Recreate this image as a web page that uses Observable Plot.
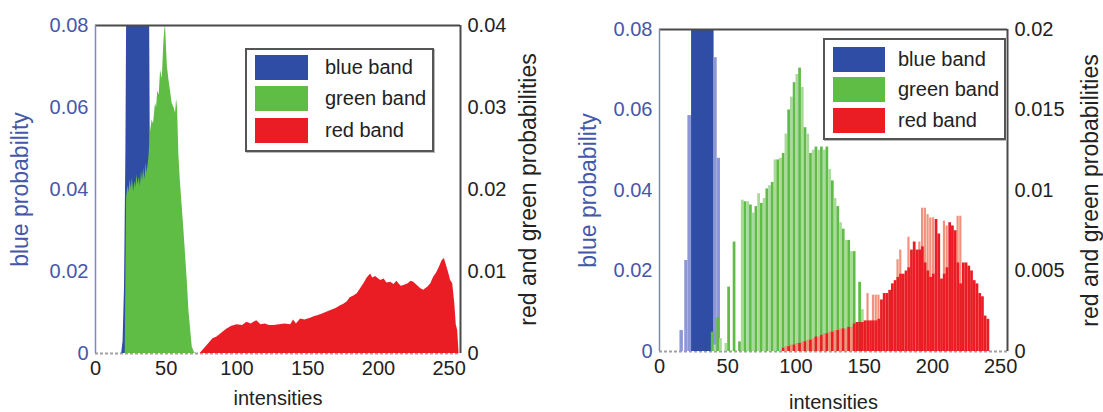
<!DOCTYPE html>
<html><head><meta charset="utf-8">
<script src="https://cdn.jsdelivr.net/npm/d3@7"></script>
<script src="https://cdn.jsdelivr.net/npm/@observablehq/plot@0.6"></script>
<style>
body{margin:0;background:#fff;font-family:"Liberation Sans",Arial,sans-serif}
#wrap{position:relative;width:1103px;height:412px;overflow:hidden}
.panel{position:absolute;top:0}
.lbox{position:absolute;box-sizing:border-box;border:2px solid #555;background:#fff;box-shadow:1px 1px 0 #bbb}
.sw{position:absolute;height:25px}
.lt{position:absolute;height:25px;line-height:25px;font-size:20px;color:#222;white-space:nowrap}
</style></head>
<body><div id="wrap"></div>
<script>
// ---------- data ----------
const xTicks = [0, 50, 100, 150, 200, 250];
const blueTicks = [0, 0.02, 0.04, 0.06, 0.08];
const blueTickLabels = ["0", "0.02", "0.04", "0.06", "0.08"];
const leftRGTicks = [0, 0.01, 0.02, 0.03, 0.04];
const leftRGTickLabels = ["0", "0.01", "0.02", "0.03", "0.04"];
const rightRGTicks = [0, 0.005, 0.01, 0.015, 0.02];
const rightRGTickLabels = ["0", "0.005", "0.01", "0.015", "0.02"];
const bands = ["blue band", "green band", "red band"];

// left panel (blue on left axis, green/red on right axis)
const leftBlueX = [18.5, 19.5, 20.5, 21.5, 22.3, 38, 38.8, 39.5, 40];
const leftBlueV = [0, 0.003, 0.016, 0.05, 0.1, 0.1, 0.045, 0.04, 0];
const leftGreenX = [21, 22, 23, 23.6, 24.5, 25.3, 26, 27, 27.8, 28.5, 29.3, 30, 31, 31.7, 32.5, 33.3, 34, 35, 35.7, 36.5, 37.7, 38.9, 40, 41, 42.4, 43.2, 44, 45, 46, 47.2, 48.3, 49, 49.5, 50, 50.8, 51.8, 53, 54.2, 55.5, 56.6, 57.3, 58, 58.9, 60, 61.3, 62.5, 63.6, 65, 66, 67.2, 68.4, 70, 71];
const leftGreenV = [0, 0.019, 0.0205, 0.0196, 0.0212, 0.0200, 0.0214, 0.0197, 0.0210, 0.0202, 0.0218, 0.0206, 0.0215, 0.0203, 0.0222, 0.0210, 0.0226, 0.0212, 0.0232, 0.0220, 0.0238, 0.027, 0.0285, 0.028, 0.0305, 0.030, 0.032, 0.0315, 0.0345, 0.0335, 0.0378, 0.0395, 0.04, 0.038, 0.035, 0.0335, 0.032, 0.0305, 0.03, 0.0293, 0.031, 0.03, 0.0244, 0.021, 0.0179, 0.015, 0.0122, 0.0085, 0.0053, 0.003, 0.0008, 0.0001, 0];
const leftRedX = [74, 76, 80, 83, 86, 90, 93, 96, 100, 104, 107, 110, 114, 117, 120, 123, 126, 130, 134, 138, 140, 142, 145, 148, 152, 155, 157, 160, 163, 166, 170, 173, 175.5, 178, 180, 182.6, 185, 187, 189.7, 192, 194.5, 196, 198, 201.6, 204, 206, 208.6, 211, 213, 216, 218, 221, 223, 225, 228, 230, 232, 235, 237, 239, 241, 243, 245, 246.6, 248, 250, 251, 252.5, 254, 255, 256, 257];
const leftRedV = [0, 0.0004, 0.0012, 0.0018, 0.002, 0.0026, 0.003, 0.0033, 0.0035, 0.0034, 0.0038, 0.0036, 0.004, 0.0035, 0.0036, 0.0034, 0.0034, 0.0035, 0.0036, 0.0035, 0.0041, 0.0036, 0.0042, 0.0041, 0.0043, 0.0045, 0.0046, 0.0048, 0.005, 0.0052, 0.0055, 0.0058, 0.006, 0.0063, 0.0068, 0.0070, 0.0073, 0.0078, 0.0085, 0.0092, 0.0097, 0.0092, 0.0094, 0.0089, 0.0091, 0.0086, 0.0087, 0.0084, 0.0088, 0.0082, 0.0083, 0.0085, 0.0088, 0.0087, 0.0082, 0.0079, 0.0077, 0.0081, 0.0085, 0.0093, 0.0098, 0.0105, 0.0113, 0.0116, 0.0108, 0.0096, 0.0089, 0.0085, 0.006, 0.0035, 0.0028, 0];

// right panel
const rightBlueX1 = [15, 18.5, 20.8, 23.5, 40, 42.3];
const rightBlueX2 = [17.5, 20.8, 23.5, 40, 42.3, 44.7];
const rightBlueV = [0.0052, 0.0226, 0.0586, 0.1, 0.073, 0.048];
const rightGreenX = d3.range(38, 152, 2);
const rightGreenV = [
  0.0012, 0.0004, 0.0021, 0.0008, 0, 0.0005, 0.004, 0, 0.0068, 0, 0.0006,
  0.0094, 0.0093, 0.0093, 0.0091, 0.0086, 0.009, 0.0098, 0.0092, 0.0095, 0.0101,
  0.0103, 0.0105, 0.0119, 0.0119, 0.012, 0.0123, 0.0135, 0.015, 0.0158, 0.0167,
  0.0172, 0.0176, 0.0164, 0.0139, 0.0135, 0.0123, 0.0125, 0.0127, 0.0125, 0.0127,
  0.0125, 0.0127, 0.0113, 0.0106, 0.0095, 0.009, 0.008, 0.0076, 0.0069, 0.0069,
  0.0062, 0.0062, 0, 0.0043, 0.0026, 0];
const rightRedX = d3.range(90, 242, 2);
const rightRedV = [
  0.0002, 0.0003, 0.0003, 0.0004, 0.0004, 0.0005, 0.0005, 0.0006, 0.0006, 0.0007,
  0.0007, 0.0008, 0.0009, 0.0009, 0.001, 0.0011, 0.0011, 0.0012, 0.0012, 0.0013,
  0.0013, 0.0014, 0.0014, 0.0014, 0.0015, 0.0015, 0.0017, 0.0018, 0.0018, 0.0018,
  0.0019, 0.0019, 0.0019, 0.0019, 0.0019, 0.002, 0.0032, 0.0036, 0.0036, 0.0038,
  0.0042, 0.0044, 0.0046, 0.0048, 0.0048, 0.005, 0.0052, 0.0063, 0.0068, 0.0063,
  0.0063, 0.0065, 0.0055, 0.005, 0.0046, 0.0048, 0.0082, 0.0073, 0.0045, 0.0048,
  0.0052, 0.008, 0.0078, 0.0075, 0.0055, 0.0042, 0.0055, 0.0055, 0.0053, 0.005,
  0.0044, 0.0042, 0.0036, 0.0034, 0.0022, 0.002];
const rightRedLightX = [152, 156, 158, 160, 174, 176, 182, 190, 192, 194, 196, 198, 200, 208, 210, 218, 220];
const rightRedLightV = [0.0036, 0.0035, 0.0035, 0.0035, 0.0057, 0.0063, 0.0071, 0.0068, 0.0089, 0.0089, 0.0085, 0.0083, 0.0083, 0.0081, 0.0078, 0.0084, 0.0084];

// ---------- styles ----------
const C = {
  blue: "#2f4da5", blueLight: "#8e97d6", green: "#5fbd46", greenLight: "#a9d99b",
  red: "#ea1d25", redLight: "#f2917c", blueText: "#4557a8", axisBlue: "#7f87c8"
};
const FONT = '"Liberation Sans", Arial, sans-serif';

function makePanel(o) {
  const k = 0.08 / o.rgMax;
  const rgScaled = o.rgTicks.map(v => v * k);
  const marks = [
    Plot.ruleY([0], {stroke: "#a0a0a0", strokeWidth: 2, strokeDasharray: "3,2"}),
    ...o.marks(k),
    Plot.ruleY([0.08], {stroke: "#4a4a4a", strokeWidth: 2}),
    Plot.ruleX([o.xMax], {stroke: "#4a4a4a", strokeWidth: 2}),
    Plot.ruleX([0], {stroke: C.axisBlue, strokeWidth: 1.5}),
    Plot.axisX(xTicks, {tickSize: 0, tickPadding: 7, label: null, fill: "#222"}),
    Plot.axisY(blueTicks, {anchor: "left", tickSize: 0, tickPadding: 7, label: null, fill: C.blueText,
      tickFormat: d => blueTickLabels[blueTicks.indexOf(d)]}),
    Plot.axisY(rgScaled, {anchor: "right", tickSize: 0, tickPadding: 7, label: null, fill: "#222",
      tickFormat: d => o.rgLabels[rgScaled.indexOf(d)]}),
    Plot.text(["blue probability"], {frameAnchor: "left", textAnchor: "middle", rotate: -90, dx: o.blueLabelDx, fill: C.blueText, fontSize: 23}),
    Plot.text(["red and green probabilities"], {frameAnchor: "right", textAnchor: "middle", rotate: -90, dx: o.rgLabelDx, fill: "#222", fontSize: 23}),
    Plot.text(["intensities"], {frameAnchor: "bottom", dy: o.xLabelDy, fill: "#222", fontSize: 20})
  ];
  return Plot.plot({
    width: o.width, height: 412,
    marginLeft: o.ml, marginRight: o.mr, marginTop: o.mt, marginBottom: o.mb,
    x: {domain: [0, o.xMax]},
    y: {domain: [0, 0.08]},
    style: {fontSize: "20px", fontFamily: FONT, background: "transparent", overflow: "visible"},
    marks
  });
}

const leftPanel = makePanel({
  width: 551, ml: 95, mr: 91, mt: 25, mb: 59, xMax: 258,
  rgMax: 0.04, rgTicks: leftRGTicks, rgLabels: leftRGTickLabels,
  blueLabelDx: -75, rgLabelDx: 68, xLabelDy: 51,
  marks: k => [
    Plot.areaY(leftBlueX.map((x, i) => ({x, v: leftBlueV[i]})), {x: "x", y1: 0, y2: "v", fill: C.blue, clip: true}),
    Plot.areaY(leftGreenX.map((x, i) => ({x, v: leftGreenV[i] * k})), {x: "x", y1: 0, y2: "v", fill: C.green, clip: true}),
    Plot.areaY(leftRedX.map((x, i) => ({x, v: leftRedV[i] * k})), {x: "x", y1: 0, y2: "v", fill: C.red, clip: true})
  ]
});

const rightPanel = makePanel({
  width: 552, ml: 108, mr: 96, mt: 29, mb: 61, xMax: 255,
  rgMax: 0.02, rgTicks: rightRGTicks, rgLabels: rightRGTickLabels,
  blueLabelDx: -71, rgLabelDx: 83, xLabelDy: 57,
  marks: k => [
    Plot.rect(rightBlueV.map((v, i) => ({x1: rightBlueX1[i], x2: rightBlueX2[i], v})),
      {x1: "x1", x2: "x2", y1: 0, y2: "v", fill: d => d.v >= 0.08 ? C.blue : C.blueLight, clip: true}),
    Plot.rect(rightGreenX.map((x, i) => ({x1: x, x2: x + 2, v: rightGreenV[i] * k, i})),
      {x1: "x1", x2: "x2", y1: 0, y2: "v",
       fill: d => d.i % 2 ? C.greenLight : C.green}),
    Plot.rect(rightRedLightX.map((x, i) => ({x1: x, x2: x + 1.6, v: rightRedLightV[i] * k})),
      {x1: "x1", x2: "x2", y1: 0, y2: "v", fill: C.redLight}),
    Plot.rect(rightRedX.map((x, i) => ({x1: x, x2: x + 2, v: rightRedV[i] * k, i})),
      {x1: "x1", x2: "x2", y1: 0, y2: "v",
       fill: d => (d.x1 < 142 && d.i % 2) ? C.redLight : C.red})
  ]
});

const wrap = document.getElementById("wrap");
leftPanel.classList.add("panel"); leftPanel.style.left = "0px";
rightPanel.classList.add("panel"); rightPanel.style.left = "551px";
wrap.appendChild(leftPanel);
wrap.appendChild(rightPanel);

// legends
const swatchColors = [C.blue, C.green, C.red];
function legend(box, sw, textX, rows) {
  const b = document.createElement("div");
  b.className = "lbox";
  Object.assign(b.style, {left: box[0] + "px", top: box[1] + "px", width: box[2] + "px", height: box[3] + "px"});
  wrap.appendChild(b);
  bands.forEach((name, i) => {
    const s = document.createElement("div");
    s.className = "sw";
    Object.assign(s.style, {left: sw[0] + "px", width: sw[1] + "px", top: rows[i] + "px", background: swatchColors[i]});
    wrap.appendChild(s);
    const t = document.createElement("div");
    t.className = "lt";
    t.textContent = name;
    Object.assign(t.style, {left: textX + "px", top: rows[i] + "px"});
    wrap.appendChild(t);
  });
}
legend([245, 48, 189, 104], [255, 53], 325, [55, 86, 118]);
legend([823, 38, 183, 102], [833, 52], 898, [47, 77, 108]);
</script></body></html>
